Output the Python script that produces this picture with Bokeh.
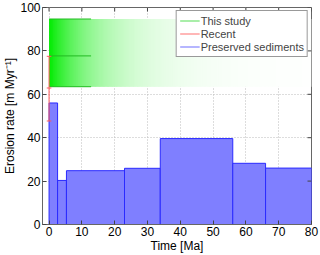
import numpy as np
from bokeh.plotting import figure
from bokeh.models import Legend, LegendItem, FixedTicker, Range1d, ColumnDataSource
from bokeh.embed import file_html
from bokeh.resources import INLINE

# ---- data ----
bar_start = [0, 2.6, 5.3, 23.0, 33.9, 56.0, 66.0]
bar_end = [2.6, 5.3, 23.0, 33.9, 56.0, 66.0, 80.0]
bar_rate = [56.0, 20.3, 24.8, 25.9, 39.6, 28.2, 26.0]

study_low = 63.5
study_mid = 77.7
study_high = 94.7
study_line_end = 12.8
study_span_end = 80.0

recent_time = 0.0
recent_values = [47.7, 62.9, 77.5]

x_ticks = [0, 10, 20, 30, 40, 50, 60, 70, 80]
y_ticks = [0, 20, 40, 60, 80, 100]
x_min, x_max = -2, 80
y_min, y_max = 0, 100

FONT = "Liberation Sans"

p = figure(width=320, height=255, output_backend="svg", toolbar_location=None,
           x_range=Range1d(x_min, x_max), y_range=Range1d(y_min, y_max),
           min_border_left=0, min_border_right=9, min_border_top=7, min_border_bottom=0)
p.background_fill_color = "white"
p.border_fill_color = "white"
p.outline_line_color = "#666666"

# gradient band for "This study"
n = 200
edges = np.linspace(0, study_span_end, n + 1)
cols = []
for i in range(n):
    xm = 0.5 * (edges[i] + edges[i + 1])
    a = np.exp(-xm / 15.0)
    base = np.array([0, 235, 0])
    c = base * a + np.array([255, 255, 255]) * (1 - a)
    cols.append("#%02x%02x%02x" % tuple(int(round(v)) for v in c))
grad = ColumnDataSource(dict(left=edges[:-1], right=np.minimum(edges[1:] + 0.3, study_span_end),
                             top=[study_high] * n, bottom=[study_low] * n, color=cols))
p.quad(left="left", right="right", top="top", bottom="bottom", source=grad,
       fill_color="color", line_color=None)

p.segment(x0=[0, 0, 0], x1=[study_line_end] * 3,
          y0=[study_low, study_mid, study_high], y1=[study_low, study_mid, study_high],
          line_color="#22bb22", line_width=1)

p.quad(left=bar_start, right=bar_end, bottom=[0] * len(bar_rate), top=bar_rate,
       fill_color="#7f7fff", line_color="#2a2aff", line_width=1)

red_col = "#ff5a5a"
p.segment(x0=[recent_time], x1=[recent_time], y0=[min(recent_values)], y1=[max(recent_values)],
          line_color=red_col, line_width=1)
cap = 0.7
p.segment(x0=[recent_time - cap] * 3, x1=[recent_time + cap] * 3, y0=recent_values, y1=recent_values,
          line_color=red_col, line_width=1)

# ticks on the top and right edges of the box (inward, 4 px)
p.ray(x=x_ticks, y=[y_max] * len(x_ticks), angle=-np.pi / 2, length=4, length_units="screen",
      line_color="#444444", line_width=1)
p.ray(x=[x_max] * len(y_ticks), y=y_ticks, angle=np.pi, length=4, length_units="screen",
      line_color="#444444", line_width=1)

nan = [float("nan")]
green_leg = p.line(x=nan, y=nan, line_color="#55dd55", line_width=1.2)
red_leg = p.line(x=nan, y=nan, line_color="#ff7070", line_width=1.2)
blue_leg = p.line(x=nan, y=nan, line_color="#6f6fff", line_width=1.2)

legend = Legend(items=[LegendItem(label="This study", renderers=[green_leg]),
                       LegendItem(label="Recent", renderers=[red_leg]),
                       LegendItem(label="Preserved sediments", renderers=[blue_leg])],
                location="top_right", label_text_font=FONT, label_text_font_size="11px",
                label_height=13, glyph_height=13, glyph_width=20, spacing=0, padding=3,
                label_standoff=1, margin=3, border_line_color="#333333", border_line_width=1,
                background_fill_alpha=1.0)
p.add_layout(legend, "center")

# axes
for ax in p.xaxis + p.yaxis:
    ax.major_tick_in = 4
    ax.major_tick_out = 0
    ax.minor_tick_in = 0
    ax.minor_tick_out = 0
    ax.axis_line_color = "#666666"
    ax.major_tick_line_color = "#444444"
    ax.major_label_text_font = FONT
    ax.major_label_text_font_size = "12px"
    ax.major_label_text_color = "black"
    ax.axis_label_text_font = FONT
    ax.axis_label_text_font_size = "12px"
    ax.axis_label_text_font_style = "normal"
    ax.axis_label_text_color = "black"
    ax.major_label_standoff = 2
    ax.axis_label_standoff = 0
p.xaxis.ticker = FixedTicker(ticks=x_ticks)
p.yaxis.ticker = FixedTicker(ticks=y_ticks)
p.xaxis.axis_label = "Time [Ma]"
p.yaxis.axis_label = "Erosion rate [m Myr⁻¹]"

p.xgrid.ticker = FixedTicker(ticks=x_ticks)
p.ygrid.ticker = FixedTicker(ticks=y_ticks)
p.grid.grid_line_color = "#bbbbbb"
p.grid.grid_line_dash = "1 2"
p.grid.grid_line_width = 1

open("out.html", "w").write(file_html(p, INLINE))
